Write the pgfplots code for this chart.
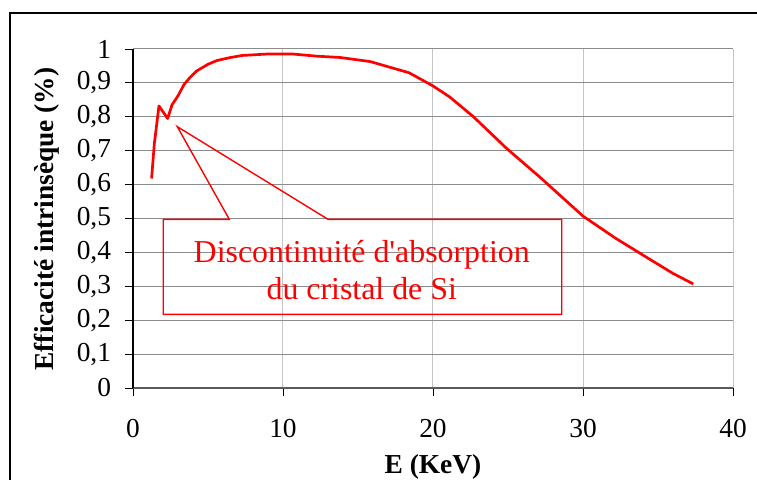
\documentclass[border=0pt]{standalone}
\usepackage{fontspec}
\setmainfont{Liberation Serif}[Ligatures=TeXOff]
\usepackage{pgfplots}
\pgfplotsset{compat=1.18}

\definecolor{gridh}{HTML}{8C8C8C}
\definecolor{gridv}{HTML}{C4C4C4}
\definecolor{axgray}{HTML}{5A5A5A}

\begin{document}
\begin{tikzpicture}
\useasboundingbox (-133bp,-92bp) rectangle (624bp,388bp);
% frame of the sheet, cut on the right and at the bottom
\draw[line width=2.6bp] (-123bp,-120bp) -- (-123bp,375bp) -- (660bp,375bp);

\begin{axis}[
    at={(0,0)}, anchor=south west,
    scale only axis, width=600bp, height=339bp,
    xmin=0, xmax=40, ymin=0, ymax=1,
    xtick={0,10,20,30,40},
    ytick={0,0.1,0.2,0.3,0.4,0.5,0.6,0.7,0.8,0.9,1},
    axis x line=bottom, axis y line=left,
    axis line style={-},
    x axis line style={axgray, line width=1.8bp},
    y axis line style={black, line width=1.2bp},
    tick align=outside, major tick length=8bp,
    tick style={black, line width=0.9bp},
    grid=major,
    x grid style={gridv, line width=1bp},
    y grid style={gridh, line width=1bp},
    /pgf/number format/assume math mode=true,
    /pgf/number format/use comma,
    ticklabel style={font=\fontsize{27.5}{28}\selectfont, inner sep=0pt},
    xticklabel style={anchor=base, yshift=-41bp},
    yticklabel style={anchor=east, xshift=-13.8bp},
    xlabel={\textbf{E (KeV)}},
    xlabel style={font=\fontsize{27.5}{28}\selectfont, inner sep=0pt, at={(rel axis cs:0.5,-0.2530)}, anchor=base},
    ylabel={\textbf{Efficacité intrinsèque (\%)}},
    ylabel style={font=\fontsize{27.5}{28}\selectfont, inner sep=0pt, at={(rel axis cs:-0.1328,0.4985)}, anchor=base},
    clip=false,
]
\addplot[red, line width=2.7bp, line join=round] coordinates {
    (1.24,0.618) (1.42,0.72) (1.73,0.832) (2.31,0.795) (2.6,0.835)
    (3.0,0.862) (3.4,0.895) (3.8,0.916) (4.24,0.935) (5.0,0.955)
    (5.6,0.966) (6.5,0.975) (7.3,0.981) (8.9,0.985) (10.7,0.985)
    (12.2,0.979) (13.8,0.975) (15.8,0.963) (18.4,0.930) (20.0,0.891)
    (21.1,0.859) (22.7,0.800) (24.9,0.707) (27.1,0.623) (30.0,0.507)
    (32.2,0.441) (34.7,0.373) (36.0,0.338) (37.35,0.307)
};
% callout
\draw[red, line width=1.4bp, line join=miter]
    (axis cs:2.02,0.4976) -- (axis cs:6.42,0.4976) -- (axis cs:2.95,0.771)
    -- (axis cs:13.0,0.4976) -- (axis cs:28.58,0.4976) -- (axis cs:28.58,0.217)
    -- (axis cs:2.02,0.217) -- cycle;
\node[red, align=center, inner sep=0pt, font=\fontsize{32}{37}\selectfont]
    at (axis cs:15.25,0.348) {Discontinuité d'absorption\\du cristal de Si};
\end{axis}
\end{tikzpicture}
\end{document}
